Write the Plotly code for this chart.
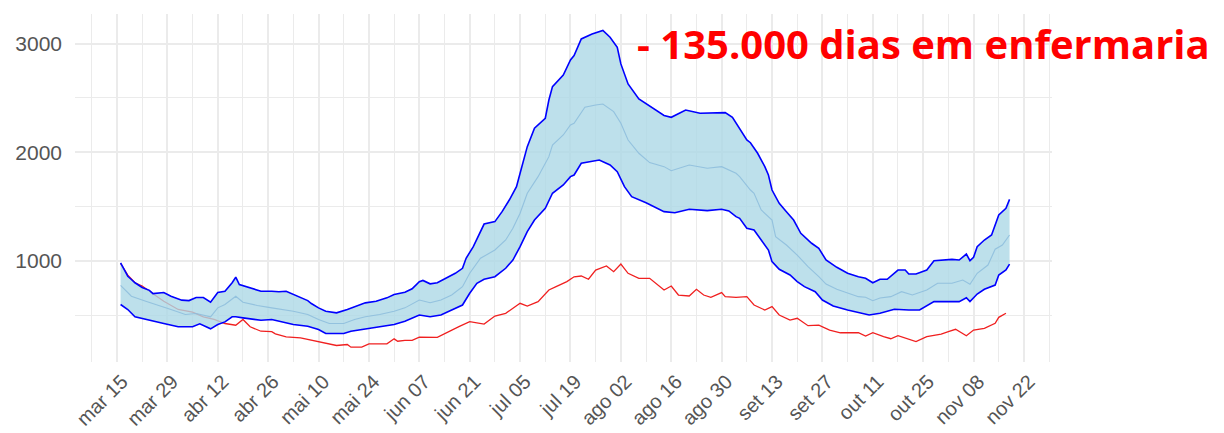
import pandas as pd
import plotly.graph_objects as go

# ---- data (day offset from 2020-03-15, value) ----
start_date = "2020-03-15"

upper_day = [1, 3, 4, 5, 7, 9, 10, 13, 15, 18, 20, 22, 24, 26, 28, 30, 32, 33, 34, 37, 40, 43, 45, 47, 49, 51, 53, 54, 56, 58,
             61, 64, 66, 69, 72, 75, 77, 80, 82, 84, 85, 87, 89, 91, 94, 96, 97, 99, 101, 102, 105, 107, 109, 111, 112, 114,
             116, 119, 120, 121, 124, 126, 127, 129, 132, 135, 137, 139, 140, 142, 145, 147, 150, 152, 154, 158, 162, 166,
             169, 171, 172, 175, 176, 178, 180, 181, 182, 184, 186, 188, 190, 193, 195, 197, 200, 203, 206, 208, 210, 212,
             214, 217, 219, 220, 222, 225, 227, 230, 232, 234, 236, 237, 238, 239, 241, 243, 244, 245, 247, 248]
upper_val = [983, 860, 830, 800, 756, 730, 700, 710, 676, 640, 636, 664, 664, 621, 710, 722, 800, 851, 784, 756, 722, 722, 717,
             722, 692, 661, 636, 609, 569, 538, 523, 554, 579, 615, 630, 661, 692, 713, 744, 810, 821, 790, 800, 832, 887, 933,
             1025, 1132, 1270, 1340, 1362, 1454, 1561, 1684, 1807, 2052, 2221, 2313, 2481, 2604, 2711, 2849, 2890, 3043, 3089,
             3120, 3058, 2966, 2813, 2629, 2491, 2445, 2378, 2338, 2322, 2389, 2359, 2359, 2365, 2322, 2267, 2113, 2088, 1991,
             1868, 1791, 1653, 1531, 1454, 1377, 1255, 1163, 1117, 1009, 942, 887, 856, 841, 800, 832, 832, 917, 917, 880, 880,
             917, 1003, 1009, 1015, 1009, 1064, 1003, 1034, 1132, 1193, 1239, 1331, 1423, 1485, 1567]

lower_day = [1, 3, 5, 8, 10, 13, 17, 21, 23, 26, 28, 30, 32, 33, 35, 37, 40, 43, 45, 49, 53, 56, 58, 63, 65, 69, 73, 77, 80,
             84, 87, 90, 93, 96, 98, 100, 102, 105, 108, 110, 112, 114, 116, 119, 121, 124, 126, 127, 129, 132, 134, 137, 139,
             141, 143, 147, 152, 155, 159, 164, 168, 170, 172, 173, 175, 177, 179, 181, 182, 184, 187, 189, 191, 194, 196, 199,
             203, 206, 209, 212, 216, 220, 223, 227, 231, 234, 236, 237, 239, 241, 244, 245, 247, 248]
lower_val = [600, 554, 487, 462, 446, 425, 395, 395, 422, 376, 416, 440, 487, 487, 477, 468, 455, 462, 446, 416, 400, 370, 333,
             333, 354, 376, 400, 416, 446, 503, 488, 503, 549, 595, 703, 795, 832, 856, 933, 1009, 1132, 1270, 1377, 1485, 1623,
             1699, 1776, 1791, 1899, 1914, 1929, 1883, 1822, 1684, 1592, 1536, 1454, 1444, 1476, 1463, 1476, 1460, 1408, 1393,
             1301, 1285, 1193, 1101, 994, 924, 871, 810, 764, 718, 641, 586, 549, 528, 503, 519, 556, 549, 549, 626, 626, 626,
             662, 626, 696, 740, 779, 871, 917, 972]

mean_day = [1, 4, 8, 11, 15, 19, 22, 26, 28, 30, 33, 35, 39, 43, 45, 49, 53, 56, 59, 63, 66, 69, 73, 77, 80, 84, 87, 90, 93,
            96, 98, 101, 105, 108, 110, 112, 114, 117, 120, 121, 124, 126, 127, 130, 133, 135, 138, 140, 142, 145, 148, 152,
            154, 159, 164, 168, 172, 173, 176, 177, 179, 182, 183, 186, 189, 192, 195, 197, 200, 203, 206, 208, 210, 212, 215,
            218, 221, 225, 228, 232, 235, 237, 239, 242, 244, 246, 248]
mean_val = [775, 676, 630, 600, 554, 508, 517, 487, 569, 600, 676, 621, 591, 569, 560, 538, 508, 462, 425, 425, 462, 487, 508,
            538, 569, 641, 616, 641, 687, 764, 887, 1025, 1101, 1193, 1301, 1439, 1623, 1776, 1960, 2067, 2159, 2251, 2267, 2414,
            2435, 2444, 2374, 2267, 2113, 1991, 1905, 1868, 1831, 1883, 1853, 1868, 1807, 1776, 1653, 1623, 1469, 1377, 1224,
            1147, 1055, 948, 856, 788, 740, 709, 672, 666, 635, 660, 672, 718, 687, 733, 795, 795, 825, 786, 887, 963, 1108,
            1147, 1239]

red_day = [1, 3, 5, 7, 11, 13, 17, 21, 24, 27, 30, 33, 35, 37, 40, 43, 44, 47, 51, 54, 58, 61, 64, 65, 68, 70, 75, 77, 78, 80,
           82, 84, 89, 92, 95, 98, 102, 105, 108, 112, 114, 117, 120, 122, 125, 127, 129, 131, 133, 136, 138, 140, 142, 145,
           148, 152, 154, 156, 159, 161, 163, 165, 168, 169, 172, 175, 177, 180, 182, 184, 187, 189, 192, 195, 198, 201, 206,
           208, 210, 213, 215, 217, 220, 222, 225, 229, 231, 233, 236, 238, 241, 244, 245, 247]
red_val = [975, 870, 800, 770, 676, 630, 554, 529, 487, 462, 425, 409, 462, 395, 354, 350, 330, 303, 293, 272, 247, 223, 232,
           207, 207, 238, 238, 284, 262, 270, 270, 300, 298, 350, 396, 442, 420, 494, 519, 611, 586, 626, 733, 764, 810, 855,
           862, 832, 917, 954, 902, 972, 887, 841, 841, 733, 770, 687, 678, 740, 687, 666, 709, 672, 666, 672, 595, 549, 580,
           503, 457, 473, 405, 411, 365, 340, 340, 310, 340, 304, 285, 313, 280, 258, 304, 328, 350, 372, 313, 365, 381, 427,
           482, 519]

tick_dates = ["2020-03-15", "2020-03-29", "2020-04-12", "2020-04-26", "2020-05-10", "2020-05-24", "2020-06-07",
              "2020-06-21", "2020-07-05", "2020-07-19", "2020-08-02", "2020-08-16", "2020-08-30", "2020-09-13",
              "2020-09-27", "2020-10-11", "2020-10-25", "2020-11-08", "2020-11-22"]
tick_labels = ["mar 15", "mar 29", "abr 12", "abr 26", "mai 10", "mai 24", "jun 07", "jun 21", "jul 05", "jul 19",
               "ago 02", "ago 16", "ago 30", "set 13", "set 27", "out 11", "out 25", "nov 08", "nov 22"]
y_ticks = [1000, 2000, 3000]
title_text = "- 135.000 dias em enfermaria"


def to_dates(days):
    return pd.Timestamp(start_date) + pd.to_timedelta(days, unit="D")


up_x, lo_x, mn_x, rd_x = to_dates(upper_day), to_dates(lower_day), to_dates(mean_day), to_dates(red_day)

fig = go.Figure()

# red observed line (under the ribbon)
fig.add_trace(go.Scatter(x=rd_x, y=red_val, mode="lines",
                         line=dict(color="#f02020", width=1.3), hoverinfo="skip"))

# ribbon
band_x = list(lo_x) + list(up_x[::-1])
band_y = list(lower_val) + list(upper_val[::-1])
fig.add_trace(go.Scatter(x=band_x, y=band_y, mode="lines", fill="toself",
                         fillcolor="rgba(173,216,230,0.8)", line=dict(width=0), hoverinfo="skip"))

# mean line
fig.add_trace(go.Scatter(x=mn_x, y=mean_val, mode="lines",
                         line=dict(color="rgba(140,188,220,0.85)", width=1.1), hoverinfo="skip"))

# bounds
fig.add_trace(go.Scatter(x=up_x, y=upper_val, mode="lines",
                         line=dict(color="#0000ff", width=1.6), hoverinfo="skip"))
fig.add_trace(go.Scatter(x=lo_x, y=lower_val, mode="lines",
                         line=dict(color="#0000ff", width=1.6), hoverinfo="skip"))

grid_c = "#ebebeb"
fig.update_layout(
    width=1216, height=425,
    margin=dict(l=67, r=172, t=6, b=71),
    paper_bgcolor="white", plot_bgcolor="white",
    showlegend=False,
    xaxis=dict(
        range=["2020-03-03 08:00", "2020-11-29 19:00"],
        tickvals=tick_dates, ticktext=tick_labels, automargin=False,
        tickangle=-45, showline=False, zeroline=False, ticks="",
        showgrid=True, gridcolor=grid_c, gridwidth=1.5,
        tickfont=dict(family="Liberation Sans, Arial", size=20, color="#555555"),
        ticklabelshift=5, ticklabelstandoff=3,
        minor=dict(dtick=7 * 86400000, tick0="2020-03-08", showgrid=True, gridcolor=grid_c, gridwidth=1.3),
    ),
    yaxis=dict(
        range=[71, 3272], automargin=False,
        tickvals=y_ticks, ticktext=[str(v) for v in y_ticks],
        showline=False, zeroline=False, ticks="",
        showgrid=True, gridcolor=grid_c, gridwidth=1.5,
        tickfont=dict(family="Liberation Sans, Arial", size=21, color="#555555"),
        ticklabelstandoff=12,
        minor=dict(dtick=500, tick0=0, showgrid=True, gridcolor=grid_c, gridwidth=1.3),
    ),
    annotations=[dict(
        text="<b>" + title_text + "</b>", xref="paper", yref="paper",
        x=0.573, y=0.914, xanchor="left", yanchor="middle", showarrow=False,
        font=dict(family="Open Sans", size=40, color="#ff0000"),
    )],
)

fig.write_html("out.html")
